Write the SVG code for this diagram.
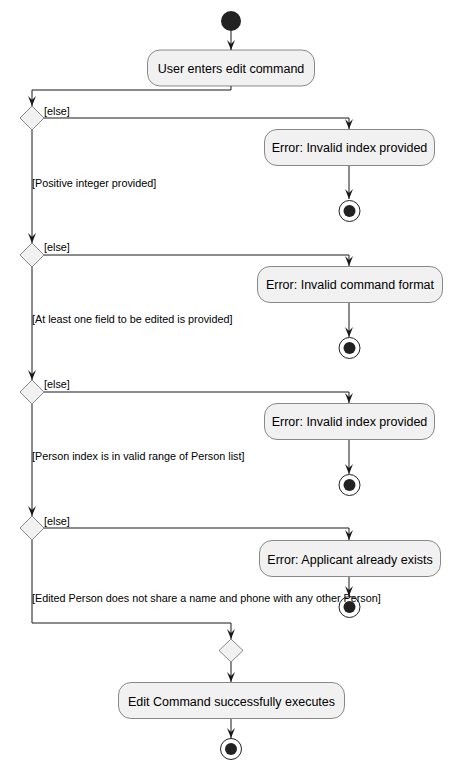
<svg xmlns="http://www.w3.org/2000/svg" width="452" height="770" viewBox="0 0 452 770">
<defs>
<style>
.act{fill:#F1F1F1;stroke:#181818;stroke-width:0.5}
.dia{fill:#F1F1F1;stroke:#181818;stroke-width:0.5}
.at{font-family:"Liberation Sans",Arial,sans-serif;font-size:12.5px;fill:#000;text-anchor:middle}
.lb{font-family:"Liberation Sans",Arial,sans-serif;font-size:10.8px;fill:#000}
.ln{fill:none;stroke:#181818;stroke-width:1;marker-end:url(#ah)}
.endo{fill:none;stroke:#222222;stroke-width:1}
.endi{fill:#222222;stroke:none}
</style>
<marker id="ah" markerWidth="10" markerHeight="8" refX="10" refY="4" orient="auto" markerUnits="userSpaceOnUse" viewBox="0 0 10 8">
<polygon points="0,0 10,4 0,8 4,4" fill="#181818"/>
</marker>
</defs>
<rect width="452" height="770" fill="#FFFFFF"/>
<g id="connectors">
<path class="ln" d="M231,31 V50"/>
<path class="ln" d="M231,86 V90 H32 V106"/>
<path class="ln" d="M44,118 H349 V129"/>
<path class="ln" d="M349,166 V199"/>
<path class="ln" d="M32,130 V243"/>
<path class="ln" d="M44,255 H349 V266"/>
<path class="ln" d="M349,303 V337"/>
<path class="ln" d="M32,267 V380"/>
<path class="ln" d="M44,392 H349 V403"/>
<path class="ln" d="M349,440 V474"/>
<path class="ln" d="M32,404 V516"/>
<path class="ln" d="M44,528 H349 V540"/>
<path class="ln" d="M349,577 V596"/>
<path class="ln" d="M32,540 V623 H231 V639"/>
<path class="ln" d="M231,662 V682"/>
<path class="ln" d="M231,719 V738"/>
</g>
<g id="start"><circle cx="231" cy="21" r="10" fill="#222222"/></g>
<g id="a1"><rect class="act" x="147.5" y="50" width="167" height="36" rx="12.5"/><text class="at" x="231" y="72.5">User enters edit command</text></g>
<g id="d1"><polygon class="dia" points="32,106 44,118 32,130 20,118"/><text class="lb" x="44" y="114.5">[else]</text><text class="lb" x="32" y="186.5">[Positive integer provided]</text></g>
<g id="e1"><rect class="act" x="264.5" y="129.5" width="170" height="36" rx="12.5"/><text class="at" x="349.5" y="152">Error: Invalid index provided</text></g>
<g id="end1"><circle class="endo" cx="349.5" cy="211" r="10.5"/><circle class="endi" cx="349.5" cy="211" r="6"/></g>
<g id="d2"><polygon class="dia" points="32,243 44,255 32,267 20,255"/><text class="lb" x="44" y="251">[else]</text><text class="lb" x="32" y="323">[At least one field to be edited is provided]</text></g>
<g id="e2"><rect class="act" x="257.5" y="266.5" width="185" height="36" rx="12.5"/><text class="at" x="350" y="289">Error: Invalid command format</text></g>
<g id="end2"><circle class="endo" cx="349.5" cy="348" r="10.5"/><circle class="endi" cx="349.5" cy="348" r="6"/></g>
<g id="d3"><polygon class="dia" points="32,380 44,392 32,404 20,392"/><text class="lb" x="44" y="388">[else]</text><text class="lb" x="32" y="459.5">[Person index is in valid range of Person list]</text></g>
<g id="e3"><rect class="act" x="264.5" y="403.5" width="170" height="36" rx="12.5"/><text class="at" x="349.5" y="426">Error: Invalid index provided</text></g>
<g id="end3"><circle class="endo" cx="349.5" cy="485" r="10.5"/><circle class="endi" cx="349.5" cy="485" r="6"/></g>
<g id="d4"><polygon class="dia" points="32,516 44,528 32,540 20,528"/><text class="lb" x="44" y="524.5">[else]</text></g>
<g id="e4"><rect class="act" x="259.5" y="540.5" width="181" height="36" rx="12.5"/><text class="at" x="350" y="563.5">Error: Applicant already exists</text></g>
<g id="end4"><circle class="endo" cx="349.5" cy="607" r="10.5"/><circle class="endi" cx="349.5" cy="607" r="6"/></g>
<g id="l4"><text class="lb" x="32" y="601.5">[Edited Person does not share a name and phone with any other Person]</text></g>
<g id="merge"><polygon class="dia" points="231,639 243,650.5 231,662 219,650.5"/></g>
<g id="a2"><rect class="act" x="118.5" y="682.5" width="226" height="36" rx="12.5"/><text class="at" x="231.5" y="705.5">Edit Command successfully executes</text></g>
<g id="end5"><circle class="endo" cx="231" cy="749" r="10.5"/><circle class="endi" cx="231" cy="749" r="6"/></g>
</svg>
